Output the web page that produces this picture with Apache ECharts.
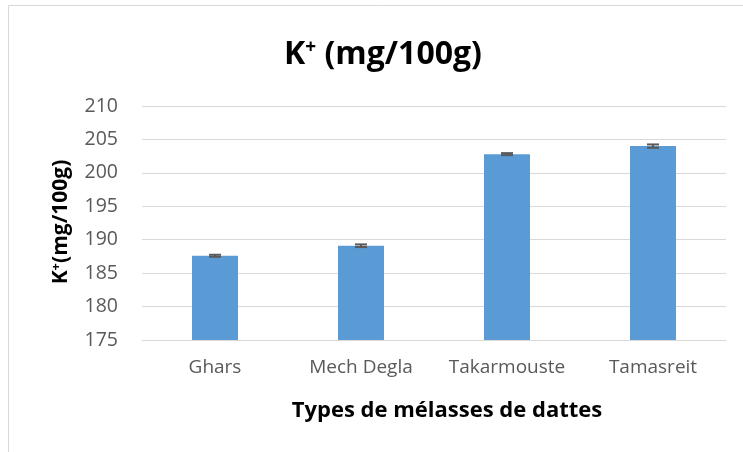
<!DOCTYPE html>
<html>
<head>
<meta charset="utf-8">
<script src="https://cdn.jsdelivr.net/npm/echarts@6/dist/echarts.min.js"></script>
<style>
  html, body { margin: 0; padding: 0; background: #fff; }
  #chart { width: 743px; height: 452px; }
</style>
</head>
<body>
<div id="chart"></div>
<script>
// données
const categories = ['Ghars', 'Mech Degla', 'Takarmouste', 'Tamasreit']
const potassium = [187.6, 189.1, 202.8, 204.0]
const errors = [0.15, 0.2, 0.15, 0.25]
const yTicks = [175, 180, 185, 190, 195, 200, 205, 210]

const font = '"Open Sans", "Noto Sans", sans-serif'
const chart = echarts.init(document.getElementById('chart'))

const option = {
  animation: false,
  backgroundColor: '#fff',
  grid: { left: 142, right: 17, top: 106, bottom: 112 },
  xAxis: {
    type: 'category',
    data: categories,
    axisLine: { lineStyle: { color: '#d9d9d9', width: 1 } },
    axisTick: { show: false },
    axisLabel: { color: '#595959', fontSize: 19, fontFamily: font, margin: 18, interval: 0 }
  },
  yAxis: {
    type: 'value',
    min: yTicks[0],
    max: yTicks[yTicks.length - 1],
    interval: 5,
    axisLine: { show: false },
    axisTick: { show: false },
    splitLine: { lineStyle: { color: '#d9d9d9', width: 1 } },
    axisLabel: { color: '#595959', fontSize: 19.5, fontFamily: font, margin: 24 }
  },
  series: [
    {
      type: 'bar',
      data: potassium,
      barWidth: '31.5%',
      itemStyle: { color: '#5b9bd5' }
    },
    {
      // barres d'erreur
      type: 'custom',
      data: potassium.map((v, i) => [i, v, errors[i]]),
      z: 10,
      renderItem: function (params, api) {
        const x = api.value(0)
        const v = api.value(1)
        const e = api.value(2)
        const top = api.coord([x, v + e])
        const bot = api.coord([x, v - e])
        const w = 6
        return {
          type: 'group',
          children: [
            { type: 'line', shape: { x1: top[0], y1: top[1], x2: bot[0], y2: bot[1] }, style: { stroke: '#595959', lineWidth: 2 } },
            { type: 'line', shape: { x1: top[0] - w, y1: top[1], x2: top[0] + w, y2: top[1] }, style: { stroke: '#595959', lineWidth: 2 } },
            { type: 'line', shape: { x1: bot[0] - w, y1: bot[1], x2: bot[0] + w, y2: bot[1] }, style: { stroke: '#595959', lineWidth: 2 } }
          ]
        }
      }
    }
  ],
  graphic: [
    {
      type: 'rect',
      shape: { x: 8.5, y: 5.5, width: 800, height: 500 },
      style: { fill: 'none', stroke: '#d9d9d9', lineWidth: 1 },
      silent: true
    },
    {
      type: 'text',
      x: 383, y: 55,
      style: {
        text: '{b|K}{s|+}{b| (mg/100g)}',
        align: 'center',
        verticalAlign: 'middle',
        rich: {
          b: { fontSize: 32, fontWeight: 'bold', fontFamily: font, fill: '#000' },
          s: { fontSize: 19, fontWeight: 'bold', fontFamily: font, fill: '#000', verticalAlign: 'top', padding: [0, 0, 14, 0] }
        }
      }
    },
    {
      type: 'text',
      x: 61, y: 222,
      rotation: Math.PI / 2,
      style: {
        text: '{b|K}{s|+}{b|(mg/100g)}',
        align: 'center',
        verticalAlign: 'middle',
        rich: {
          b: { fontSize: 21, fontWeight: 'bold', fontFamily: font, fill: '#000' },
          s: { fontSize: 13, fontWeight: 'bold', fontFamily: font, fill: '#000', padding: [0, 0, 9, 0] }
        }
      }
    },
    {
      type: 'text',
      x: 447, y: 411,
      style: {
        text: 'Types de mélasses de dattes',
        align: 'center',
        verticalAlign: 'middle',
        fontSize: 22,
        fontWeight: 'bold',
        fontFamily: font,
        fill: '#000'
      }
    }
  ]
}

chart.setOption(option)
</script>
</body>
</html>
